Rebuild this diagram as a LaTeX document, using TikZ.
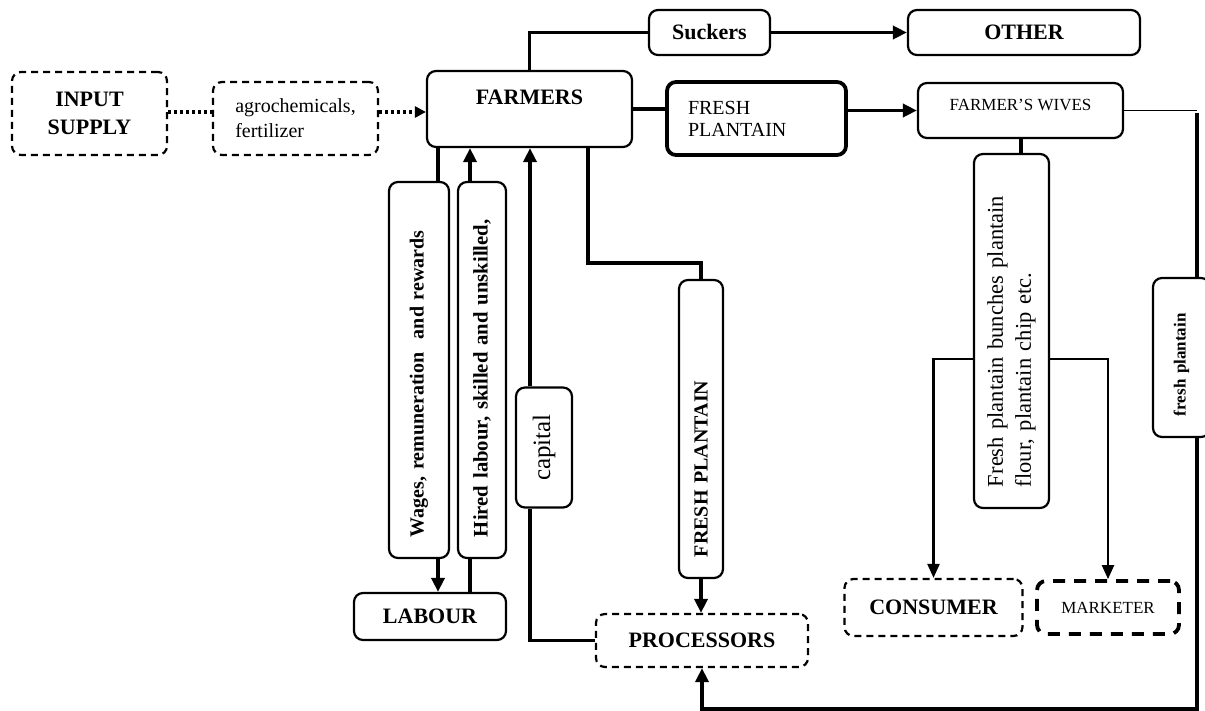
\documentclass[tikz,border=0pt]{standalone}
\usepackage{fontspec}
\setmainfont{Liberation Serif}
\usetikzlibrary{arrows.meta}
\begin{document}
\begin{tikzpicture}[x=1pt,y=-1pt,
  box/.style={draw, rounded corners=9pt, line width=2.2pt, inner sep=0pt, align=center},
  dbox/.style={box, dash pattern=on 7pt off 5pt},
  thickbox/.style={box, line width=3.8pt},
  flow/.style={line width=3.5pt},
  arr/.style={flow, -{Triangle[length=14pt,width=13pt]}},
  thinarr/.style={line width=2.2pt, -{Triangle[length=14pt,width=12pt]}},
  dotline/.style={line width=3.5pt, dash pattern=on 3pt off 3pt},
  dotarr/.style={dotline, -{Triangle[length=11pt,width=11pt]}},
  bigbf/.style={font=\bfseries\fontsize{22}{28}\selectfont},
  midbf/.style={font=\bfseries\fontsize{20}{24}\selectfont},
  smallbf/.style={font=\bfseries\fontsize{17}{20}\selectfont},
  plain/.style={font=\fontsize{20}{25}\selectfont},
  vert/.style={rotate=90},
  vleft/.style={align=left, inner xsep=21pt, text width=#1}
]
\useasboundingbox (0,0) rectangle (1205,711);

% ---- nodes ----
\node[dbox, bigbf, minimum width=155pt, minimum height=83pt] (inp) at (89.5,113.5) {INPUT\\SUPPLY};
\node[dbox, plain, align=left, minimum width=165pt, minimum height=73pt] (agro) at (295.5,118.5) {agrochemicals,\\fertilizer};
\node[box, minimum width=205pt, minimum height=76pt,
      label={[bigbf, anchor=center, label distance=0pt, yshift=-27pt]north:FARMERS}] (farm) at (529.5,109) {};
\node[box, bigbf, minimum width=121pt, minimum height=45pt] (suck) at (709.5,32.5) {Suckers};
\node[box, bigbf, minimum width=232pt, minimum height=45pt] (other) at (1024,32.5) {OTHER};
\node[thickbox, font=\fontsize{20}{22}\selectfont, align=left, inner xsep=21pt, text width=137pt,
      minimum height=73pt] (fph) at (756.5,118.5) {FRESH\\PLANTAIN};
\node[box, minimum width=205pt, minimum height=55pt,
      label={[font=\fontsize{17}{20}\selectfont, anchor=center, label distance=0pt, yshift=-23pt]north:FARMER’S WIVES}] (wives) at (1020.5,110.5) {};
\node[box, vert, font=\fontsize{22.5}{28}\selectfont, vleft=312pt, minimum height=75pt] (fpb) at (1011.5,331)
  {Fresh plantain bunches plantain\\flour, plantain chip etc.};
\node[dbox, bigbf, minimum width=178pt, minimum height=57pt] (cons) at (933.5,607.5) {CONSUMER};
\node[box, line width=3.8pt, dash pattern=on 12pt off 9pt, font=\fontsize{17}{20}\selectfont,
      minimum width=142pt, minimum height=53pt] (mark) at (1108,607.5) {MARKETER};
\node[dbox, bigbf, minimum width=212pt, minimum height=53pt] (proc) at (702,640.5) {PROCESSORS};
\node[box, vert, font=\bfseries\fontsize{20}{22}\selectfont, vleft=256pt, minimum height=44pt] (fpv) at (701,429) {FRESH PLANTAIN};
\node[box, vert, font=\fontsize{25}{28}\selectfont, minimum width=120pt, minimum height=56pt] (cap) at (544,447.5) {capital};
\node[box, vert, midbf, vleft=334pt, minimum height=60pt] (wages) at (419,370) {Wages, remuneration\ \ and rewards};
\node[box, vert, font=\bfseries\fontsize{20.7}{24}\selectfont, vleft=334pt, minimum height=48pt] (hired) at (482,370) {Hired labour, skilled and unskilled,};
\node[box, bigbf, minimum width=152pt, minimum height=47pt] (lab) at (430,616.5) {LABOUR};
\node[box, vert, smallbf, vleft=117pt, minimum height=57pt] (fpr) at (1181.5,357.5) {fresh plantain};

% ---- helper coordinates ----
\coordinate (xw) at (438,0);
\coordinate (xh) at (470,0);
\coordinate (xc) at (530,0);
\coordinate (c1) at (588,263);
\coordinate (bl) at (933,359);
\coordinate (rc) at (1197,110.5);
\coordinate (rtop) at (1197,113);
\coordinate (rbot) at (1197,709);

% ---- connectors ----
\draw[dotline] (inp.east |- 0,112) -- (agro.west |- 0,112);
\draw[dotarr] (agro.east |- 0,112) -- (farm.west |- 0,112);
\draw[flow] (farm.north) |- (suck.west);
\draw[arr] (suck.east) -- (other.west);
\draw[flow] (farm.east) -- (farm.east -| fph.west);
\draw[arr] (fph.east |- wives.west) -- (wives.west);
\draw[line width=1.5pt] (wives.east) -- (rc);
\draw[flow] (rtop) -- (fpr.east -| rtop);
\draw[arr] (fpr.west -| rtop) -- (rbot) -| (proc.south);
\draw[flow] (wives.south -| 1021,0) -- (fpb.east -| 1021,0);
\draw[thinarr] (fpb.north |- bl) -| (cons.north);
\draw[thinarr] (fpb.south |- bl) -| (mark.north);
\draw[flow] (farm.south -| c1) -- (c1) -| (fpv.east);
\draw[arr] (fpv.west) -- (fpv.west |- proc.north);
\draw[flow] (proc.west) -| (cap.west -| xc);
\draw[arr] (cap.east -| xc) -- (farm.south -| xc);
\draw[flow] (farm.south -| xw) -- (wages.east -| xw);
\draw[arr] (wages.west -| xw) -- (lab.north -| xw);
\draw[flow] (lab.north -| xh) -- (hired.west -| xh);
\draw[arr] (hired.east -| xh) -- (farm.south -| xh);
\end{tikzpicture}
\end{document}
